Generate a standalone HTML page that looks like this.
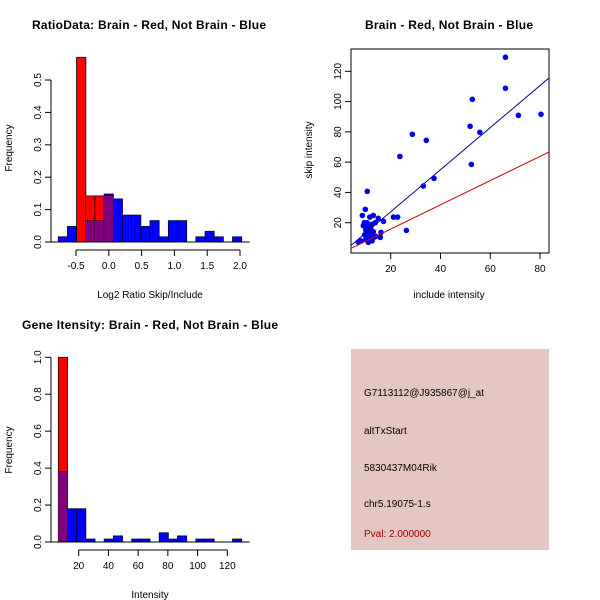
<!DOCTYPE html>
<html><head><meta charset="utf-8"><style>
body{margin:0;background:#fff}
svg{display:block;font-family:"Liberation Sans",sans-serif}
</style></head><body>
<svg id="c" width="600" height="600" viewBox="0 0 600 600">
<text x="149" y="29" font-size="12" font-weight="bold" text-anchor="middle" textLength="234">RatioData: Brain - Red, Not Brain - Blue</text>
<text x="449" y="29" font-size="12" font-weight="bold" text-anchor="middle" textLength="168">Brain - Red, Not Brain - Blue</text>
<text x="150" y="329" font-size="12" font-weight="bold" text-anchor="middle" textLength="256">Gene Itensity: Brain - Red, Not Brain - Blue</text>
<text x="150" y="298" font-size="10" text-anchor="middle">Log2 Ratio Skip/Include</text>
<text x="12" y="148" font-size="10" text-anchor="middle" transform="rotate(-90 12 148)">Frequency</text>
<text x="449" y="298" font-size="10" text-anchor="middle">include intensity</text>
<text x="312" y="150" font-size="10" text-anchor="middle" transform="rotate(-90 312 150)">skip intensity</text>
<text x="150" y="598" font-size="10" text-anchor="middle">Intensity</text>
<text x="12" y="450" font-size="10" text-anchor="middle" transform="rotate(-90 12 450)">Frequency</text>
<rect x="351" y="349" width="198" height="201" fill="#e5c7c1"/>
<g font-size="10">
<text x="364" y="396">G7113112@J935867@j_at</text>
<text x="364" y="434">altTxStart</text>
<text x="364" y="471">5830437M04Rik</text>
<text x="364" y="507">chr5.19075-1.s</text>
<text x="364" y="537" fill="#a00000">Pval: 2.000000</text>
</g>
</svg>
<script>
const ratioBlue=[0.016,0.048,0,0.066,0.066,0.148,0.133,0.083,0.083,0.048,0.066,0.016,0.066,0.066,0,0.016,0.033,0.016,0,0.016];
const ratioRed=[0,0,0.57,0.142,0.142,0.142];
const ratioStart=-0.77, ratioWidth=0.1398;
const ratioXTicks=[-0.5,0.0,0.5,1.0,1.5,2.0];
const ratioYTicks=[0,0.1,0.2,0.3,0.4,0.5];
const intBlue=[0.38,0.18,0.18,0.016,0,0.016,0.033,0,0.016,0.016,0,0.05,0.016,0.033,0,0.016,0.016,0,0,0.016];
const intRed=[1.0];
const intStart=6.3, intWidth=6.17;
const intXTicks=[20,40,60,80,100,120];
const intYTicks=[0,0.2,0.4,0.6,0.8,1.0];
const scX=[66.1,66.1,52.8,51.9,55.8,71.3,80.4,28.7,34.3,23.7,52.4,37.4,33.1,10.6,21.1,22.8,17.1,26.3,9.8,8.6,11.6,13,15,13.8,9.4,9,16.1,15.8,10,11,12,10.5,11.5,12.5,11,13,9.5,12,13,10,8,7,14,12,11,12.5,10.5];
const scY=[129.3,108.8,101.5,83.7,79.7,90.9,91.6,78.4,74.4,63.8,58.5,49.3,44.2,40.7,23.7,23.7,20.9,14.9,28.8,24.8,23.7,24.8,22.9,20,20,18,13.6,10.3,15,13,12,11,9,8,7,10,12,16,14,9,8,7,11,18,17,19,20];
const scXTicks=[20,40,60,80];
const scYTicks=[20,40,60,80,100,120];
const blueFit=[-0.6,1.39], redFit=[-0.2,0.8];

const svg=document.getElementById('c');const NS='http://www.w3.org/2000/svg';
function mk(t,a,p){const e=document.createElementNS(NS,t);for(const k in a)e.setAttribute(k,a[k]);(p||svg).appendChild(e);return e;}
function hist(cfg){
 const X=v=>cfg.x0+(v-cfg.xv0)*cfg.xs, Y=v=>cfg.y0-v*cfg.ys;
 cfg.blue.forEach((v,i)=>{if(v<=0)return;const a=X(cfg.start+i*cfg.w),b=X(cfg.start+(i+1)*cfg.w);
  const r=mk('rect',{x:a,y:Y(v),width:b-a,height:Y(0)-Y(v),fill:'#0000ff',stroke:'#000033','stroke-width':0.8});
  });
 cfg.red.forEach((v,i)=>{if(v<=0)return;const a=X(cfg.start+i*cfg.w),b=X(cfg.start+(i+1)*cfg.w);
  const r=mk('rect',{x:a,y:Y(v),width:b-a,height:Y(0)-Y(v),fill:'rgba(255,0,0,0.5)',stroke:'#330000','stroke-width':0.8});
  
  const ov=Math.min(v,cfg.blue[i]);
  const p=mk('rect',{x:a,y:Y(ov),width:b-a,height:Y(0)-Y(ov),fill:'#800080'});
  
  if(v>ov){const q=mk('rect',{x:a,y:Y(v),width:b-a,height:Y(ov)-Y(v),fill:'#ff0000',stroke:'#000','stroke-width':0.6});
  }
  if(cfg.blue[i]>v){const q=mk('rect',{x:a,y:Y(cfg.blue[i]),width:b-a,height:Y(v)-Y(cfg.blue[i]),fill:'#000080'});
  }
 });
 const base=mk('line',{x1:X(cfg.start)-8,x2:X(cfg.start+cfg.blue.length*cfg.w)+8,y1:Y(0),y2:Y(0),stroke:'#000'});
 
 const ax=mk('line',{x1:X(cfg.xt[0]),x2:X(cfg.xt[cfg.xt.length-1]),y1:cfg.axY,y2:cfg.axY,stroke:'#000'});
 
 cfg.xt.forEach(t=>{mk('line',{x1:X(t),x2:X(t),y1:cfg.axY,y2:cfg.axY+6,stroke:'#000'});
  const tx=mk('text',{x:X(t),y:cfg.axY+19,'font-size':10,'text-anchor':'middle'});tx.textContent=cfg.fmt(t);
  });
 const ay=mk('line',{x1:cfg.axX,x2:cfg.axX,y1:Y(cfg.yt[0]),y2:Y(cfg.yt[cfg.yt.length-1]),stroke:'#000'});
 
 cfg.yt.forEach(t=>{mk('line',{x1:cfg.axX-6,x2:cfg.axX,y1:Y(t),y2:Y(t),stroke:'#000'});
  const tx=mk('text',{x:cfg.axX-10,y:Y(t),'font-size':10,'text-anchor':'middle',transform:`rotate(-90 ${cfg.axX-10} ${Y(t)})`});tx.textContent=t.toFixed(1);
  });
}
hist({blue:ratioBlue,red:ratioRed,start:ratioStart,w:ratioWidth,x0:76,xv0:-0.5,xs:65.6,y0:242,ys:324,xt:ratioXTicks,yt:ratioYTicks,axY:250,axX:51,fmt:t=>t.toFixed(1)});
hist({blue:intBlue,red:intRed,start:intStart,w:intWidth,x0:78.7,xv0:20,xs:1.486,y0:542,ys:184.7,xt:intXTicks,yt:intYTicks,axY:550,axX:51,fmt:t=>String(t)});

const sx=v=>390.7+(v-20)*2.489, sy=v=>222.7-(v-20)*1.514;
const box=mk('rect',{x:351,y:49,width:198,height:204,fill:'none',stroke:'#000'});

const cp=mk('clipPath',{id:'cl'});mk('rect',{x:351,y:49,width:198,height:204},cp);
const g=mk('g',{'clip-path':'url(#cl)'});
scX.forEach((x,i)=>{const c=mk('circle',{cx:sx(x),cy:sy(scY[i]),r:2.8,fill:'#0000ee'},g);
 });
[[blueFit,'#00008b','blue-fit-line'],[redFit,'#cc0000','red-fit-line']].forEach(([f,col,n])=>{
 const l=mk('line',{x1:sx(4),y1:sy(f[0]+f[1]*4),x2:sx(84),y2:sy(f[0]+f[1]*84),stroke:col,'stroke-width':1},g);
 });
scXTicks.forEach(t=>{mk('line',{x1:sx(t),x2:sx(t),y1:253,y2:259,stroke:'#000'});
 const tx=mk('text',{x:sx(t),y:272,'font-size':10,'text-anchor':'middle'});tx.textContent=t;
 });
scYTicks.forEach(t=>{mk('line',{x1:345,x2:351,y1:sy(t),y2:sy(t),stroke:'#000'});
 const tx=mk('text',{x:341,y:sy(t),'font-size':10,'text-anchor':'middle',transform:`rotate(-90 341 ${sy(t)})`});tx.textContent=t;
 });
</script>
</body></html>
